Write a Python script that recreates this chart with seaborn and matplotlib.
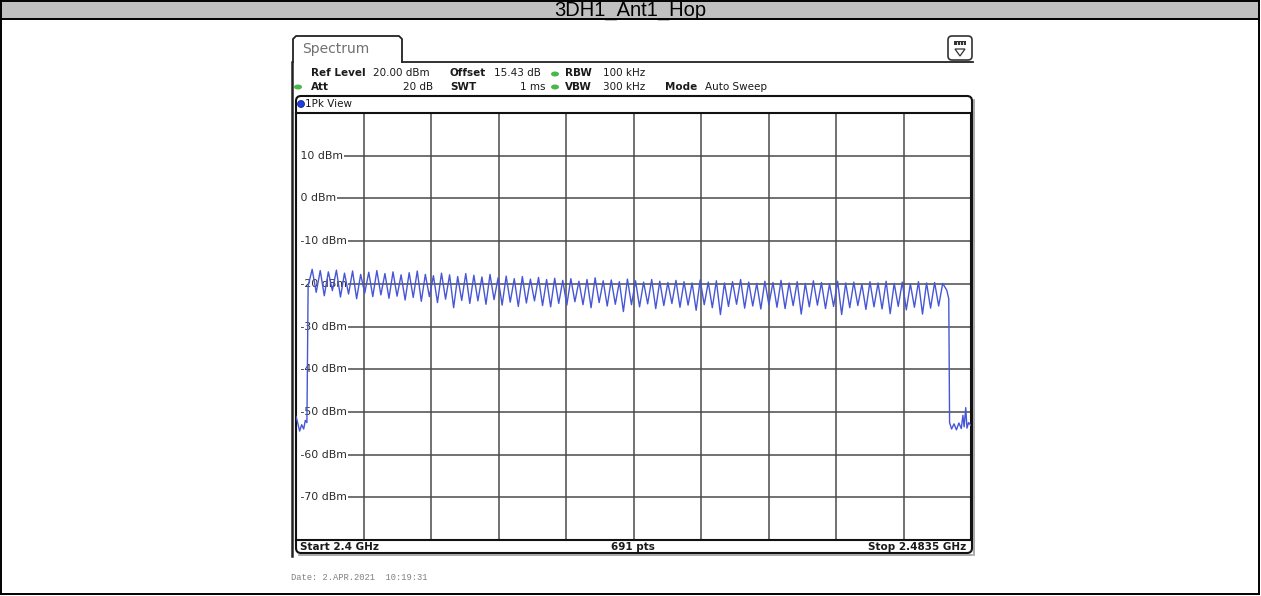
import numpy as np
import pandas as pd
import matplotlib
matplotlib.use("Agg")
import matplotlib.pyplot as plt
import seaborn as sns
from matplotlib.patches import FancyBboxPatch, Rectangle, Ellipse, Polygon
from matplotlib.lines import Line2D

# ---- trace data (MHz / dBm) ----
channel_freqs = list(range(2402, 2481))          # 79 hopping channels
channel_peaks = [
    -16.6, -16.9, -17.2, -16.8, -17.5, -17.0, -17.8, -17.3, -16.9, -17.6,
    -17.2, -17.9, -17.4, -17.0, -17.8, -18.1, -17.5, -17.9, -18.3, -17.6,
    -18.0, -18.4, -17.8, -18.6, -18.2, -18.8, -18.3, -18.9, -18.5, -19.0,
    -18.7, -19.2, -18.8, -19.4, -19.0, -18.6, -19.3, -19.1, -19.5, -18.9,
    -19.3, -19.6, -19.0, -19.4, -19.7, -19.2, -19.5, -19.8, -19.1, -19.6,
    -19.3, -19.8, -19.5, -19.0, -19.6, -19.9, -19.4, -19.7, -19.2, -19.8,
    -19.5, -19.9, -19.3, -19.7, -20.0, -19.4, -19.8, -19.6, -20.1, -19.5,
    -19.8, -19.4, -19.9, -19.6, -20.0, -19.5, -19.8, -19.7, -19.9,
]
valley_levels = [
    -22.0, -22.8, -21.6, -23.1, -22.4, -23.5, -22.2, -23.0, -22.6, -23.4,
    -22.9, -23.8, -23.2, -24.1, -23.0, -24.4, -23.6, -25.6, -23.9, -24.6,
    -24.0, -24.8, -23.7, -25.0, -24.3, -25.3, -24.5, -24.0, -25.1, -25.4,
    -24.6, -25.0, -24.2, -24.9, -25.6, -24.4, -25.2, -24.8, -26.5, -24.9,
    -25.4, -24.7, -25.8, -25.1, -24.6, -25.5, -25.0, -26.2, -24.9, -25.6,
    -27.2, -25.3, -24.8, -25.7, -25.2, -25.9, -24.9, -25.5, -25.8, -25.1,
    -27.1, -25.4, -25.0, -25.8, -25.3, -27.2, -25.6, -25.1, -26.0, -25.4,
    -25.9, -27.0, -25.3, -26.1, -25.5, -27.1, -25.7, -25.2,
]
lead_freqs = [2400.0, 2400.2, 2400.45, 2400.7, 2400.95, 2401.15, 2401.35, 2401.5]
lead_levels = [-51.0, -52.5, -54.5, -53.0, -54.0, -52.0, -52.5, -20.5]
tail_freqs = [2480.5, 2480.75, 2480.85, 2481.1, 2481.4, 2481.7, 2482.0, 2482.3,
              2482.5, 2482.65, 2482.85, 2483.0, 2483.2, 2483.5]
tail_levels = [-21.5, -23.5, -52.5, -54.0, -52.8, -54.2, -52.6, -53.9,
               -50.8, -53.5, -49.0, -53.8, -52.5, -53.2]

y_ticks = [10, 0, -10, -20, -30, -40, -50, -60, -70]
start_ghz, stop_ghz, n_points = 2.4, 2.4835, 691

# ---- assemble trace ----
body_f, body_l = [], []
for i, (f, p) in enumerate(zip(channel_freqs, channel_peaks)):
    body_f.append(f)
    body_l.append(p)
    if i < len(valley_levels):
        body_f.append(f + 0.5)
        body_l.append(valley_levels[i])
trace = pd.DataFrame({
    "freq": lead_freqs + body_f + tail_freqs,
    "level": lead_levels + body_l + tail_levels,
})

W, H = 1261, 596
fig = plt.figure(figsize=(W / 100, H / 100), dpi=100)
fig.patch.set_facecolor("white")

# full-figure canvas in pixel units (y downwards)
bg = fig.add_axes([0, 0, 1, 1], zorder=0)
bg.set_xlim(0, W)
bg.set_ylim(H, 0)
bg.axis("off")

# table cell with grey title band
bg.add_patch(Rectangle((1, 1), W - 3, 17.5, facecolor="#c0c0c0", edgecolor="none"))
for seg in [((1, 1), (W - 2, 1)), ((1, 18.5), (W - 2, 18.5)), ((1, 1), (1, H - 2)),
            ((W - 2, 1), (W - 2, H - 2)), ((1, H - 2), (W - 2, H - 2))]:
    bg.add_line(Line2D([seg[0][0], seg[1][0]], [seg[0][1], seg[1][1]],
                       color="black", lw=1.4))
bg.text(W / 2, 10, "3DH1_Ant1_Hop", ha="center", va="center", fontsize=14.5,
        family=["Liberation Sans", "DejaVu Sans"], color="black")

# "Spectrum" tab and header rule
tab_x = [293, 293, 296, 399, 402, 402]
tab_y = [62, 39, 36, 36, 39, 62]
bg.add_line(Line2D(tab_x, tab_y, color="#222222", lw=1.3))
bg.add_line(Line2D([402, 973], [62, 62], color="#222222", lw=1.3))
bg.text(302, 49, "Spectrum", ha="left", va="center", fontsize=10, color="#707070")

# view-menu icon at top right
bg.add_patch(FancyBboxPatch((948, 36), 24, 24, boxstyle="round,pad=0,rounding_size=4",
                            facecolor="white", edgecolor="#333333", lw=1.2))
bg.add_patch(Rectangle((954, 41), 12, 4, facecolor="#333333", edgecolor="none"))
for xx in (957, 960, 963):
    bg.add_line(Line2D([xx, xx], [41.5, 44.5], color="white", lw=0.6))
bg.add_patch(Polygon([[955, 49], [965, 49], [960, 56]], closed=True,
                     facecolor="white", edgecolor="#333333", lw=0.9))

# measurement settings
hdr_fs = 7.5
green = "#49b84a"
def kv(x, y, key, bold=True, ha="left"):
    bg.text(x, y, key, ha=ha, va="center", fontsize=hdr_fs, color="#1a1a1a",
            fontweight="bold" if bold else "normal")

kv(311, 73, "Ref Level")
kv(373, 73, "20.00 dBm", bold=False)
kv(450, 73, "Offset")
kv(494, 73, "15.43 dB", bold=False)
kv(565, 73, "RBW")
kv(603, 73, "100 kHz", bold=False)
kv(311, 87, "Att")
kv(433, 87, "20 dB", bold=False, ha="right")
kv(450, 87, "SWT")
kv(545, 87, "1 ms", bold=False, ha="right")
kv(565, 87, "VBW")
kv(603, 87, "300 kHz", bold=False)
kv(665, 87, "Mode")
kv(705, 87, "Auto Sweep", bold=False)
for (ex, ey) in [(555, 74), (298, 87), (555, 87)]:
    bg.add_patch(Ellipse((ex, ey), 8, 5, facecolor=green, edgecolor="none"))

# trace window frame with footer
bg.add_patch(FancyBboxPatch((296, 96), 676, 457, boxstyle="round,pad=0,rounding_size=5",
                            facecolor="white", edgecolor="#111111", lw=1.5))
bg.add_line(Line2D([973.5, 973.5], [100, 555], color="#9a9a9a", lw=1.2))
bg.add_line(Line2D([299, 972], [554.5, 554.5], color="#9a9a9a", lw=1.2))
bg.add_line(Line2D([291.5, 291.5], [62, 556], color="#222222", lw=1.8))
bg.add_patch(Ellipse((301, 104), 7, 7, facecolor="#1f3fe0", edgecolor="#0a1a80", lw=0.5))
bg.text(305, 104, "1Pk View", ha="left", va="center", fontsize=7.5, color="#1a1a1a")

bg.text(300, 547, f"Start {start_ghz:g} GHz", ha="left", va="center", fontsize=7.5,
        fontweight="bold", color="#1a1a1a")
bg.text(633, 547, f"{n_points} pts", ha="center", va="center", fontsize=7.5,
        fontweight="bold", color="#1a1a1a")
bg.text(966, 547, f"Stop {stop_ghz:g} GHz", ha="right", va="center", fontsize=7.5,
        fontweight="bold", color="#1a1a1a")
bg.text(291, 577, "Date: 2.APR.2021  10:19:31", ha="left", va="center", fontsize=6.3,
        family=["Liberation Mono", "DejaVu Sans Mono"], color="#808080")

# ---- spectrum axes ----
sns.set_style("white")
ax = fig.add_axes([296 / W, 1 - 540 / H, 675 / W, 427 / H], zorder=2)
sns.lineplot(data=trace, x="freq", y="level", ax=ax, color="#4656d6", lw=1.0,
             estimator=None, sort=False, zorder=3)
ax.set_xlim(2400, 2483.5)
ax.set_ylim(-80, 20)
ax.set_xticks(np.linspace(2400, 2483.5, 11))
ax.set_yticks(np.arange(-80, 21, 10))
ax.set_axisbelow(True)
ax.grid(True, color="#4a4a4a", lw=1.1)
ax.tick_params(length=0, labelbottom=False, labelleft=False)
ax.set_xlabel("")
ax.set_ylabel("")
ax.set_facecolor("white")
for side, sp in ax.spines.items():
    sp.set_color("#111111")
    sp.set_linewidth(1.5)
    sp.set_visible(True)

for v in y_ticks:
    ax.text(2400.1, v, f" {v} dBm", ha="left", va="center", fontsize=7.8, color="#2a2a2a",
            zorder=1, bbox=dict(facecolor="white", edgecolor="none", pad=1.0))

fig.savefig("out.png", dpi=100)
